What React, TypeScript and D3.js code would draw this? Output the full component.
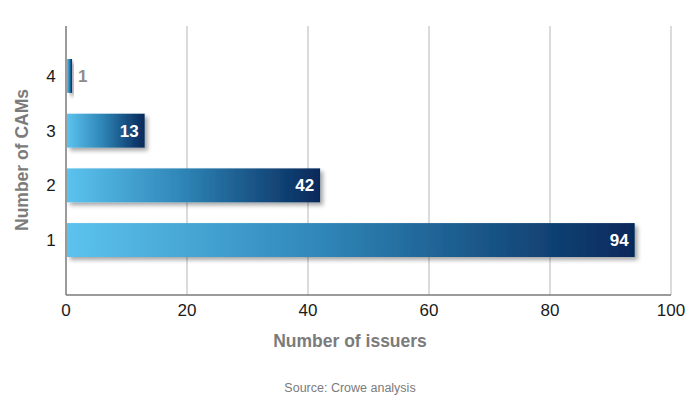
import React, { useEffect, useRef } from "react";
import * as d3 from "d3";

const categories = ["4", "3", "2", "1"];
const issuers = [1, 13, 42, 94];
const xTicks = [0, 20, 40, 60, 80, 100];

const W = 700;
const H = 399;
const left = 66;
const right = 671;
const top = 26;
const bottom = 295;

const App = () => {
    const ref = useRef<SVGSVGElement>(null);

    useEffect(() => {
        const svg = d3.select(ref.current);
        svg.selectAll("*").remove();

        const x = d3.scaleLinear().domain([0, 100]).range([left, right]);
        const y = d3.scaleBand().domain(categories).range([59, 257])
            .paddingInner(0.38).paddingOuter(0);

        const defs = svg.append("defs");
        const grad = defs.append("linearGradient").attr("id", "barGrad")
            .attr("x1", "0%").attr("x2", "100%").attr("y1", "0%").attr("y2", "0%");
        grad.append("stop").attr("offset", "0%").attr("stop-color", "#5cc3ee");
        grad.append("stop").attr("offset", "45%").attr("stop-color", "#2f86b8");
        grad.append("stop").attr("offset", "100%").attr("stop-color", "#06285a");

        const shadow = defs.append("filter").attr("id", "shadow")
            .attr("x", "-10%").attr("y", "-20%").attr("width", "130%").attr("height", "160%");
        shadow.append("feGaussianBlur").attr("in", "SourceAlpha").attr("stdDeviation", 2);
        shadow.append("feOffset").attr("dx", 3).attr("dy", 3).attr("result", "off");
        shadow.append("feComponentTransfer").append("feFuncA").attr("type", "linear").attr("slope", 0.35);
        const merge = shadow.append("feMerge");
        merge.append("feMergeNode");
        merge.append("feMergeNode").attr("in", "SourceGraphic");

        // gridlines
        svg.append("g").selectAll("line").data(xTicks.slice(1)).join("line")
            .attr("x1", d => x(d)).attr("x2", d => x(d))
            .attr("y1", top).attr("y2", bottom)
            .attr("stroke", "#cfcfcf").attr("stroke-width", 1.5);

        // axes lines
        svg.append("line").attr("x1", left).attr("x2", left).attr("y1", top).attr("y2", bottom)
            .attr("stroke", "#7a7a7a").attr("stroke-width", 1.5);
        svg.append("line").attr("x1", left).attr("x2", right).attr("y1", bottom).attr("y2", bottom)
            .attr("stroke", "#7a7a7a").attr("stroke-width", 1.5);

        const data = categories.map((c, i) => ({ c, v: issuers[i] }));

        svg.append("g").selectAll("rect").data(data).join("rect")
            .attr("x", x(0) + 1)
            .attr("y", d => y(d.c)!)
            .attr("width", d => x(d.v) - x(0) - 1)
            .attr("height", y.bandwidth())
            .attr("fill", "url(#barGrad)")
            .attr("filter", "url(#shadow)");

        svg.append("g").selectAll("text").data(data).join("text")
            .attr("x", d => d.v < 5 ? x(d.v) + 6 : x(d.v) - 6)
            .attr("y", d => y(d.c)! + y.bandwidth() / 2)
            .attr("dy", "0.36em")
            .attr("text-anchor", d => d.v < 5 ? "start" : "end")
            .attr("fill", d => d.v < 5 ? "#8c8c8c" : "#ffffff")
            .attr("font-weight", "bold")
            .attr("font-size", 17)
            .text(d => d.v);

        // tick labels
        svg.append("g").selectAll("text").data(xTicks).join("text")
            .attr("x", d => x(d)).attr("y", 316)
            .attr("text-anchor", "middle").attr("font-size", 17).attr("fill", "#1a1a1a")
            .text(d => d);

        svg.append("g").selectAll("text").data(categories).join("text")
            .attr("x", 51).attr("y", d => y(d)! + y.bandwidth() / 2)
            .attr("dy", "0.36em")
            .attr("text-anchor", "middle").attr("font-size", 17).attr("fill", "#1a1a1a")
            .text(d => d);

        svg.append("text").attr("x", 350).attr("y", 347)
            .attr("text-anchor", "middle").attr("font-size", 17.5).attr("font-weight", "bold")
            .attr("fill", "#7b7b7b").text("Number of issuers");

        svg.append("text").attr("transform", "translate(28,160) rotate(-90)")
            .attr("text-anchor", "middle").attr("font-size", 17.5).attr("font-weight", "bold")
            .attr("fill", "#7b7b7b").text("Number of CAMs");

        svg.append("text").attr("x", 350).attr("y", 392)
            .attr("text-anchor", "middle").attr("font-size", 12.5)
            .attr("fill", "#7b7b7b").text("Source: Crowe analysis");
    }, []);

    return (
        <svg ref={ref} width={W} height={H}
             style={{ position: "absolute", left: 0, top: 0, background: "#fff" }}
             fontFamily="'Liberation Sans', Arial, sans-serif" />
    );
};

export default App;
